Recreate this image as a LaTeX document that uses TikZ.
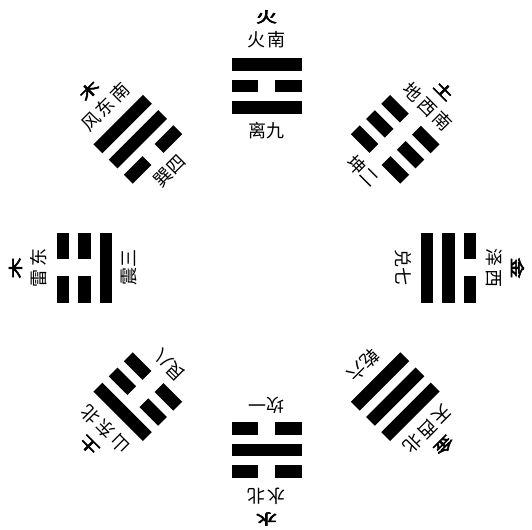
\documentclass[tikz,border=0pt]{standalone}
\usepackage{fontspec}
\newfontfamily\cjk{Noto Sans CJK SC}
\newfontfamily\cjkdir{Noto Sans CJK SC}[LetterSpace=15]
\newfontfamily\cjkb{Noto Sans CJK SC}[FakeBold=4]
\tikzset{
  elemlabel/.style={inner sep=0pt, font=\cjkb\fontsize{18bp}{18bp}\selectfont},
  dirlabel/.style={inner sep=0pt, font=\cjkdir\fontsize{18bp}{18bp}\selectfont},
  namelabel/.style={inner sep=0pt, font=\cjk\fontsize{18bp}{18bp}\selectfont},
  bar/.style={fill=black}
}
\begin{document}
\begin{tikzpicture}[x=1bp,y=1bp]
\useasboundingbox (0,0) rectangle (532,530);
\coordinate (O) at (266.5,262);
\foreach \i/\ang/\lo/\lm/\li/\el/\di/\na in {
 1/90/1/0/1/火/火南/离九,
 2/45/0/0/0/土/地西南/坤二,
 3/0/0/1/1/金/泽西/兑七,
 4/-45/1/1/1/金/天西北/乾六,
 5/-90/0/1/0/水/水北/坎一,
 6/-135/1/0/0/土/山东北/艮八,
 7/180/0/0/1/木/雷东/震三,
 8/135/1/1/0/木/风东南/巽四}{
 \begin{scope}[shift={(O)}, rotate=\ang-90]
   \foreach \r/\s in {203.5/\lo, 182/\lm, 160.5/\li}{
     \ifnum\s=1
       \fill[bar] (-35,\r-6.25) rectangle (35,\r+6.25);
     \else
       \fill[bar] (-35,\r-6.25) rectangle (-8.5,\r+6.25);
       \fill[bar] (8.5,\r-6.25) rectangle (35,\r+6.25);
     \fi
   }
   \node[elemlabel, rotate=\ang-90] (e\i) at (0,251) {\scalebox{1.15}[0.8]{\el}};
   \node[dirlabel, rotate=\ang-90] (d\i) at (0,228) {\di};
   \node[namelabel, rotate=\ang-90] (n\i) at (0,137) {\na};
 \end{scope}
}
\end{tikzpicture}
\end{document}
